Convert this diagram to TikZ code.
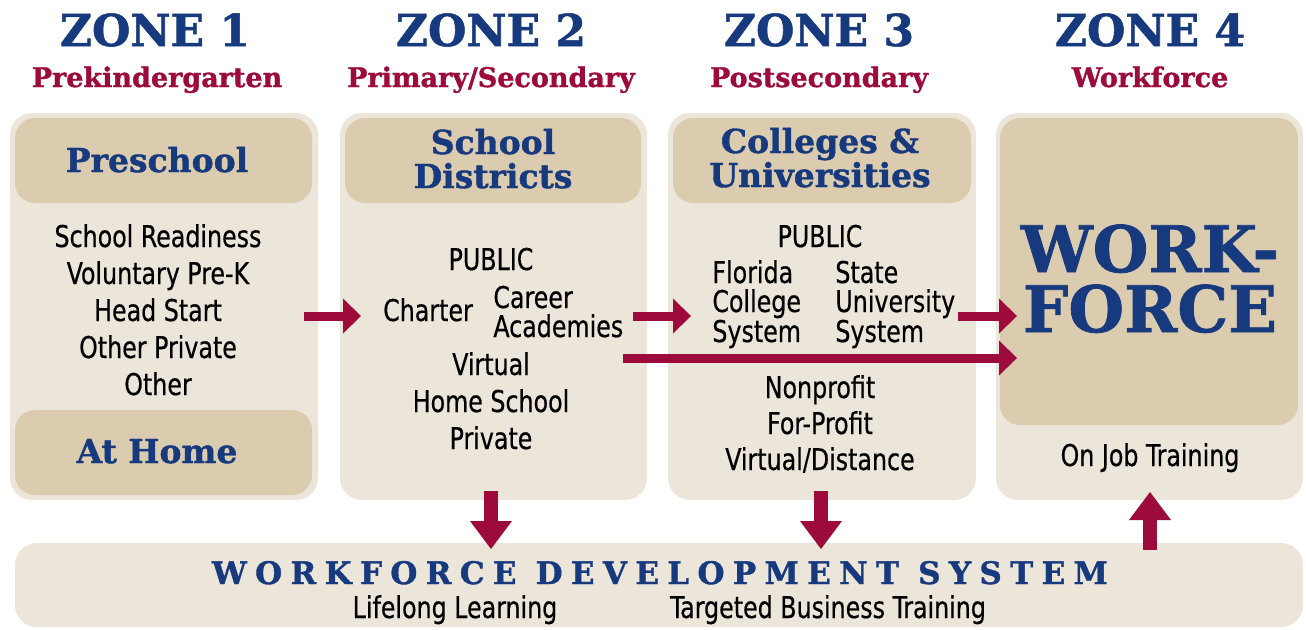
\documentclass[tikz,border=0pt]{standalone}
\usepackage{fontspec}
\setmainfont{DejaVu Serif}[BoldFeatures={FakeBold=1.2}]
\newfontfamily\bodyfont[FakeStretch=0.88,FakeBold=0.5]{DejaVu Sans Condensed}
\usetikzlibrary{arrows.meta,positioning}

\definecolor{paper}{HTML}{ECE5DA}
\definecolor{sand}{HTML}{DBCCAF}
\definecolor{navy}{HTML}{173A7E}
\definecolor{wine}{HTML}{9C0B3B}

\tikzset{
  colbox/.style={fill=paper, rounded corners=11pt},
  headbox/.style={fill=sand, rounded corners=10pt},
  zonetitle/.style={anchor=base, inner sep=0pt, text=navy, font=\fontsize{22}{22}\selectfont\bfseries},
  zonesub/.style={anchor=base, inner sep=0pt, text=wine, font=\fontsize{13.5}{14}\selectfont\bfseries},
  headtext/.style={anchor=base, inner sep=0pt, text=navy, font=\fontsize{16.5}{17}\selectfont\bfseries},
  item/.style={anchor=base, inner sep=0pt, font=\bodyfont\fontsize{15}{15}\selectfont},
  leftitem/.style={item, anchor=base west},
  flow/.style={draw=wine, line width=4.5pt, -{Triangle[length=9pt,width=17.5pt,line width=0pt]}},
  drop/.style={draw=wine, line width=7pt, -{Triangle[length=14pt,width=21pt,line width=0pt]}}
}

\begin{document}
\begin{tikzpicture}[x=0.5pt,y=-0.5pt]
  \useasboundingbox (0,0) rectangle (1306,629);

  % column panels
  \fill[colbox] (10,113) rectangle (318,500);
  \fill[colbox] (340,113) rectangle (647,500);
  \fill[colbox] (668,113) rectangle (976,500);
  \fill[colbox] (996,113) rectangle (1303,500);
  \fill[colbox] (15,543) rectangle (1303,627);

  % header panels
  \fill[headbox] (15,118) rectangle (312,203);
  \fill[headbox] (15,410) rectangle (312,495);
  \fill[headbox] (345,118) rectangle (641,203);
  \fill[headbox] (673,118) rectangle (971,203);
  \fill[headbox] (1000,118) rectangle (1298,425);

  % zone titles
  \node[zonetitle] (z1) at (155,46) {ZONE 1};
  \node[zonetitle] (z2) at (491,46) {ZONE 2};
  \node[zonetitle] (z3) at (819,46) {ZONE 3};
  \node[zonetitle] (z4) at (1150,46) {ZONE 4};
  \node[zonesub] (s1) at (157,87) {Prekindergarten};
  \node[zonesub] (s2) at (491,87) {Primary/Secondary};
  \node[zonesub] (s3) at (819,87) {Postsecondary};
  \node[zonesub] (s4) at (1150,87) {Workforce};

  % zone 1
  \node[headtext] (preschool) at (157,172) {Preschool};
  \node[headtext] (athome) at (157,463) {At Home};
  \foreach \i/\t in {0/School Readiness,1/Voluntary Pre-K,2/Head Start,3/Other Private,4/Other}
    \node[item] (pk\i) at (158,247+37*\i) {\t};

  % zone 2
  \node[headtext] (school) at (493,154) {School};
  \node[headtext] (districts) at (493,188) {Districts};
  \node[item] (pub2) at (491,270) {PUBLIC};
  \node[item] (charter) at (428,321) {Charter};
  \node[leftitem] (career) at (493,308) {Career};
  \node[leftitem] (academies) at (493,337) {Academies};
  \node[item] (virtual) at (491,375) {Virtual};
  \node[item] (home) at (491,412) {Home School};
  \node[item] (private) at (491,449) {Private};

  % zone 3
  \node[headtext] (colleges) at (820,153) {Colleges \&};
  \node[headtext] (univ) at (820,187) {Universities};
  \node[item] (pub3) at (820,247) {PUBLIC};
  \node[leftitem] (fcs1) at (712,283) {Florida};
  \node[leftitem] (fcs2) at (712,312) {College};
  \node[leftitem] (fcs3) at (712,342) {System};
  \node[leftitem] (sus1) at (835,283) {State};
  \node[leftitem] (sus2) at (835,312) {University};
  \node[leftitem] (sus3) at (835,342) {System};
  \node[item] (nonprofit) at (820,398) {Nonprofit};
  \node[item] (forprofit) at (820,434) {For-Profit};
  \node[item] (distance) at (820,470) {Virtual/Distance};

  % zone 4
  \node[headtext, font=\fontsize{32}{32}\selectfont\bfseries] (work) at (1150,272) {WORK-};
  \node[headtext, font=\fontsize{32}{32}\selectfont\bfseries] (force) at (1150,332) {FORCE};
  \node[item] (ojt) at (1150,466) {On Job Training};

  % bottom band
  \node[headtext, font=\fontsize{15.5}{16}\selectfont\bfseries\addfontfeature{LetterSpace=27}] (wds) at (660,584) {WORKFORCE DEVELOPMENT SYSTEM};
  \node[item] (lifelong) at (455,618) {Lifelong Learning};
  \node[item] (targeted) at (828,618) {Targeted Business Training};

  % arrows
  \coordinate (a1s) at (304,316);
  \coordinate (a1e) at (361,316);
  \coordinate (a2s) at (633,316);
  \coordinate (a2e) at (691,316);
  \coordinate (a3s) at (958,316);
  \coordinate (a3e) at (1017,316);
  \coordinate (a4s) at (623,358);
  \coordinate (a4e) at (1017,358);
  \coordinate (d1s) at (491,491);
  \coordinate (d1e) at (491,549);
  \coordinate (d2s) at (821,491);
  \coordinate (d2e) at (821,549);
  \coordinate (u1s) at (1150,550);
  \coordinate (u1e) at (1150,492);
  \draw[flow] (a1s) -- (a1e);
  \draw[flow] (a2s) -- (a2e);
  \draw[flow] (a3s) -- (a3e);
  \draw[flow] (a4s) -- (a4e);
  \draw[drop] (d1s) -- (d1e);
  \draw[drop] (d2s) -- (d2e);
  \draw[drop] (u1s) -- (u1e);
\end{tikzpicture}
\end{document}
